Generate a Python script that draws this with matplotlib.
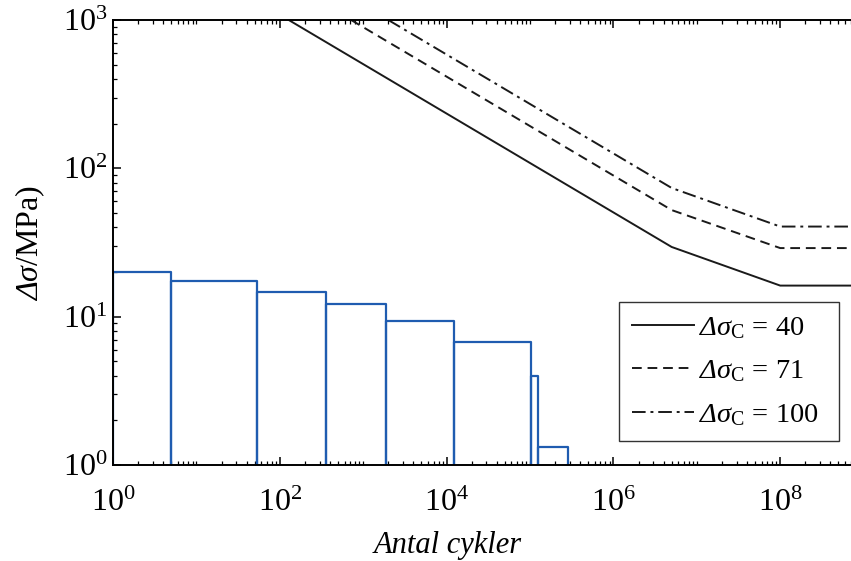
import numpy as np
import matplotlib
matplotlib.use("Agg")
import matplotlib.pyplot as plt
from matplotlib.ticker import LogLocator, NullFormatter

plt.rcParams['font.family'] = ['Liberation Serif', 'DejaVu Serif']
plt.rcParams['mathtext.fontset'] = 'custom'
plt.rcParams['mathtext.rm'] = 'Liberation Serif'
plt.rcParams['mathtext.it'] = 'Liberation Serif:italic'
plt.rcParams['mathtext.cal'] = 'Liberation Serif:italic'
plt.rcParams['mathtext.sf'] = 'Liberation Serif'

# spänningsspektrum (blocks)
block_grans = [1, 5, 53, 355, 1880, 12400, 1.03e5, 1.24e5, 2.83e5]
block_sigma = [20.0, 17.4, 14.7, 12.2, 9.4, 6.75, 4.0, 1.33]

# SN-kurvor
kurv_namn = ["40", "71", "100"]
N_40 = [128, 5e6, 1e8, 1e9]
S_40 = [1000, 29.5, 16.2, 16.2]
N_71 = [716, 5e6, 1e8, 1e9]
S_71 = [1000, 52.3, 29.0, 29.0]
N_100 = [2000, 5e6, 1e8, 1e9]
S_100 = [1000, 73.7, 40.5, 40.5]

fig = plt.figure(figsize=(8.51, 5.61), dpi=100)
W, H = 851, 561
x0, x1 = 113, 863.6
ax = fig.add_axes([x0 / W, (H - 465) / H, (x1 - x0) / W, 445 / H])

blue = '#1f5cb0'
for i in range(len(block_sigma)):
    a, b = block_grans[i], block_grans[i + 1]
    h = block_sigma[i]
    ax.plot([a, a, b, b], [1, h, h, 1], color=blue, lw=1.6)

lab = r'$\mathcal{\Delta}\sigma_{\mathsf{C}}$ = '
ax.plot(N_40, S_40, color='#1a1a1a', lw=1.4, ls='-', label=lab + kurv_namn[0] + '  ')
ax.plot(N_71, S_71, color='#1a1a1a', lw=1.4, ls=(0, (5, 3)), label=lab + kurv_namn[1] + '  ')
ax.plot(N_100, S_100, color='#1a1a1a', lw=1.4, ls=(0, (7, 2.5, 1.5, 2.5)), label=lab + kurv_namn[2] + '  ')

ax.set_xscale('log')
ax.set_yscale('log')
ax.set_xlim(1, 1e9)
ax.set_ylim(1, 1000)

ax.set_xticks([1, 1e2, 1e4, 1e6, 1e8])
ax.xaxis.set_minor_locator(LogLocator(base=10, subs=np.arange(1, 10), numticks=100))
ax.xaxis.set_minor_formatter(NullFormatter())
ax.set_yticks([1, 10, 100, 1000])
ax.yaxis.set_minor_locator(LogLocator(base=10, subs=np.arange(2, 10), numticks=100))
ax.yaxis.set_minor_formatter(NullFormatter())

ax.tick_params(which='both', direction='in', top=True, right=True, labelsize=23)
ax.tick_params(which='major', length=6, width=1.1)
ax.tick_params(which='minor', length=3, width=0.9)
ax.tick_params(axis='x', which='major', pad=17)
ax.tick_params(axis='y', which='major', pad=4)
for sp in ax.spines.values():
    sp.set_linewidth(1.4)

fig.text(448 / W, 1 - 546 / H, 'Antal cykler', fontsize=22, style='italic',
         ha='center', va='center')
fig.text(30 / W, 1 - 243 / H, r'$\mathcal{\Delta}\sigma$/MPa)', fontsize=23,
         rotation=90, ha='center', va='center')

leg = ax.legend(loc='upper left', bbox_to_anchor=((619 - x0) / (x1 - x0), (465 - 302) / 445),
                fontsize=20.5, handlelength=2.2, handletextpad=0.15, borderpad=0.45,
                labelspacing=0.62, fancybox=False, framealpha=1, borderaxespad=0)
leg.get_frame().set_edgecolor('#333333')
leg.get_frame().set_linewidth(1.0)

fig.savefig('out.png', dpi=100)
